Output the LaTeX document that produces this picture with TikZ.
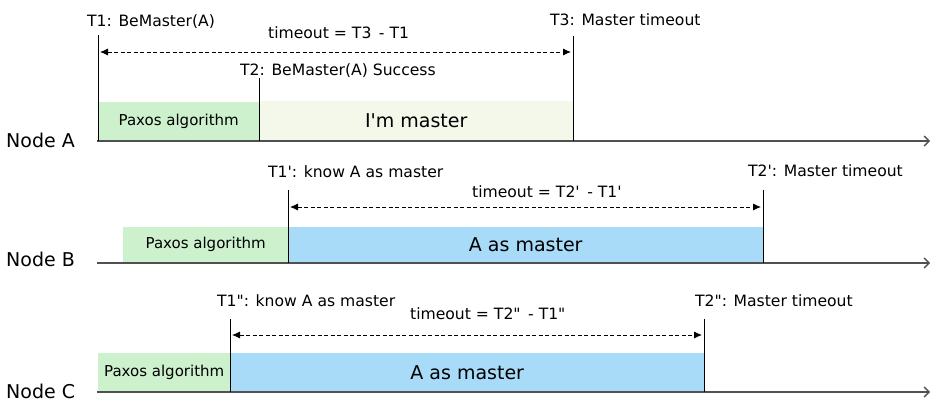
\documentclass[tikz,border=0pt]{standalone}
\usepackage{fontspec}
\setmainfont{DejaVu Sans}
\usetikzlibrary{arrows.meta}
\definecolor{paxosgreen}{HTML}{CCF1CC}
\definecolor{masterblue}{HTML}{A7DBF7}
\definecolor{masterpale}{HTML}{F3F8EA}
\definecolor{axisgray}{HTML}{505050}
\newcommand{\prm}{\textquotesingle}
\newcommand{\dprm}{\textquotedbl}

\begin{document}
\begin{tikzpicture}[x=1pt,y=-1pt,
    timeaxis/.style={draw=axisgray,line width=1.4pt,-{Straight Barb[length=5pt,width=10pt]}},
    moment/.style={draw=black,line width=0.9pt},
    span/.style={draw=black,line width=0.8pt,dash pattern=on 4pt off 2.5pt,{Latex[length=8pt,width=7pt]}-{Latex[length=8pt,width=7pt]}},
    lbl/.style={anchor=base west,inner sep=0,font=\fontsize{15.6}{17}\selectfont},
    rowname/.style={anchor=base west,inner sep=0,font=\fontsize{19}{21}\selectfont},
    phase/.style={anchor=south west,inner sep=0,font=\fontsize{15}{17}\selectfont},
    bigphase/.style={phase,font=\fontsize{19}{21}\selectfont}]
    \useasboundingbox (0,0) rectangle (935,405);

    % phases on each node
    \node[phase,fill=paxosgreen,minimum width=161pt,minimum height=39pt] (paxA) at (98,141) {Paxos algorithm};
    \node[bigphase,fill=masterpale,minimum width=314pt,minimum height=40pt] (mastA) at (259,141) {I\prm m master};
    \node[phase,fill=paxosgreen,minimum width=165pt,minimum height=36pt] (paxB) at (123,263) {Paxos algorithm};
    \node[bigphase,fill=masterblue,minimum width=475pt,minimum height=36pt] (mastB) at (288,263) {A as master};
    \node[phase,fill=paxosgreen,minimum width=132pt,minimum height=39pt] (paxC) at (98,392) {Paxos algorithm};
    \node[bigphase,fill=masterblue,minimum width=474pt,minimum height=39pt] (mastC) at (230,392) {A as master};

    % time axes
    \foreach \n/\y/\b in {A/141/147,B/263/266,C/392/398}{
        \coordinate (start\n) at (97,\y);
        \coordinate (end\n) at (930,\y);
        \draw[timeaxis] (start\n) -- (end\n);
        \node[rowname] (name\n) at (6,\b) {Node \n};
    }

    % moments
    \foreach \m/\x/\top/\bot in {a1/98/35/141,a2/259/78/141,a3/573/36/141,b1/288/190/263,b2/763/190/263,c1/230/319/392,c2/704/319/392}{
        \coordinate (\m top) at (\x,\top);
        \coordinate (\m bot) at (\x,\bot);
        \draw[moment] (\m top) -- (\m bot);
    }

    \node[lbl] (la1) at (87,26) {T1: BeMaster(A)};
    \node[lbl] (la2) at (240,75) {T2: BeMaster(A) Success};
    \node[lbl] (la3) at (550,25) {T3: Master timeout};
    \node[lbl] (lb1) at (268,177) {T1\prm: know A as master};
    \node[lbl] (lb2) at (748,176) {T2\prm: Master timeout};
    \node[lbl] (lc1) at (217,306) {T1\dprm: know A as master};
    \node[lbl] (lc2) at (695,306) {T2\dprm: Master timeout};

    % timeouts
    \coordinate (spanAl) at (100,52);
    \coordinate (spanAr) at (571,52);
    \coordinate (spanBl) at (290,207);
    \coordinate (spanBr) at (761,207);
    \coordinate (spanCl) at (232,335);
    \coordinate (spanCr) at (702,335);
    \draw[span] (spanAl) -- (spanAr);
    \draw[span] (spanBl) -- (spanBr);
    \draw[span] (spanCl) -- (spanCr);
    \node[lbl] (toA) at (268,38) {timeout = T3\, - T1};
    \node[lbl] (toB) at (472,197) {timeout = T2\prm\, - T1\prm};
    \node[lbl] (toC) at (410,319) {timeout = T2\dprm\, - T1\dprm};
\end{tikzpicture}
\end{document}
